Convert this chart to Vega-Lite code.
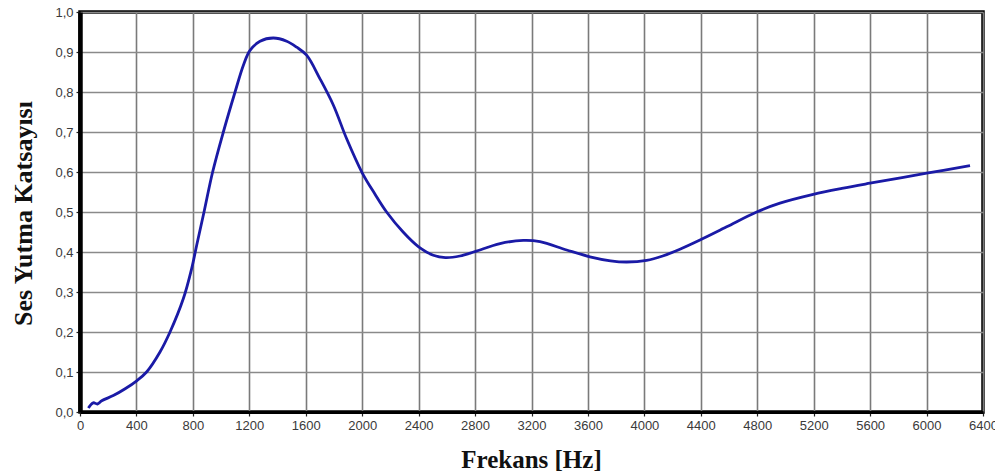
{
  "$schema": "https://vega.github.io/schema/vega-lite/v6.json",
  "width": 903,
  "height": 400,
  "autosize": {"type": "none"},
  "padding": {"left": 80, "top": 12, "right": 12, "bottom": 63},
  "background": "white",
  "data": {"values": [
    {"f": 59, "a": 0.010},
    {"f": 94, "a": 0.023},
    {"f": 123, "a": 0.020},
    {"f": 154, "a": 0.028},
    {"f": 236, "a": 0.041},
    {"f": 320, "a": 0.058},
    {"f": 402, "a": 0.078},
    {"f": 472, "a": 0.100},
    {"f": 567, "a": 0.150},
    {"f": 638, "a": 0.200},
    {"f": 732, "a": 0.283},
    {"f": 791, "a": 0.358},
    {"f": 827, "a": 0.417},
    {"f": 879, "a": 0.500},
    {"f": 940, "a": 0.600},
    {"f": 1016, "a": 0.700},
    {"f": 1099, "a": 0.800},
    {"f": 1158, "a": 0.867},
    {"f": 1205, "a": 0.904},
    {"f": 1276, "a": 0.927},
    {"f": 1370, "a": 0.935},
    {"f": 1465, "a": 0.927},
    {"f": 1536, "a": 0.912},
    {"f": 1606, "a": 0.892},
    {"f": 1701, "a": 0.833},
    {"f": 1796, "a": 0.767},
    {"f": 1890, "a": 0.683},
    {"f": 2000, "a": 0.598},
    {"f": 2090, "a": 0.545},
    {"f": 2173, "a": 0.500},
    {"f": 2290, "a": 0.450},
    {"f": 2400, "a": 0.413},
    {"f": 2504, "a": 0.392},
    {"f": 2590, "a": 0.386},
    {"f": 2693, "a": 0.390},
    {"f": 2799, "a": 0.401},
    {"f": 2977, "a": 0.421},
    {"f": 3142, "a": 0.429},
    {"f": 3260, "a": 0.426},
    {"f": 3449, "a": 0.405},
    {"f": 3614, "a": 0.388},
    {"f": 3760, "a": 0.378},
    {"f": 3874, "a": 0.375},
    {"f": 4016, "a": 0.379},
    {"f": 4130, "a": 0.390},
    {"f": 4252, "a": 0.407},
    {"f": 4394, "a": 0.430},
    {"f": 4583, "a": 0.463},
    {"f": 4796, "a": 0.500},
    {"f": 4961, "a": 0.522},
    {"f": 5197, "a": 0.544},
    {"f": 5400, "a": 0.559},
    {"f": 5599, "a": 0.572},
    {"f": 6001, "a": 0.597},
    {"f": 6308, "a": 0.616}
  ]},
  "mark": {"type": "line", "interpolate": "catmull-rom", "color": "#1a1aa6", "strokeWidth": 2.8},
  "encoding": {
    "x": {
      "field": "f", "type": "quantitative",
      "scale": {"domain": [0, 6400], "nice": false, "zero": true},
      "axis": {
        "values": [0,400,800,1200,1600,2000,2400,2800,3200,3600,4000,4400,4800,5200,5600,6000,6400],
        "format": "d",
        "title": "Frekans [Hz]",
        "titleFont": "Liberation Serif", "titleFontSize": 25, "titleFontWeight": "bold", "titleColor": "#111",
        "titleY": 55, "titleBaseline": "alphabetic", "titleX": 451,
        "labelFont": "Liberation Sans", "labelFontSize": 13, "labelColor": "#3a3a3a", "labelPadding": 3,
        "labelFlush": false, "labelOverlap": false,
        "tickSize": 4, "tickColor": "#222", "tickWidth": 1.2,
        "domainColor": "#000", "domainWidth": 3,
        "grid": true, "gridColor": "#7a7a7a", "gridWidth": 1.6
      }
    },
    "y": {
      "field": "a", "type": "quantitative",
      "scale": {"domain": [0, 1], "nice": false},
      "axis": {
        "values": [0,0.1,0.2,0.3,0.4,0.5,0.6,0.7,0.8,0.9,1.0],
        "labelExpr": "replace(format(datum.value, '.1f'), '.', ',')",
        "title": "Ses Yutma Katsayısı",
        "titleFont": "Liberation Serif", "titleFontSize": 26, "titleFontWeight": "bold", "titleColor": "#111",
        "titleAngle": -90, "titleX": -57, "titleY": 201, "titleAlign": "center", "titleBaseline": "middle",
        "labelFont": "Liberation Sans", "labelFontSize": 13, "labelColor": "#3a3a3a", "labelPadding": 3,
        "labelFlush": false, "labelOverlap": false,
        "tickSize": 4, "tickColor": "#222", "tickWidth": 1.2,
        "domainColor": "#000", "domainWidth": 4.5,
        "grid": true, "gridColor": "#8a8a8a", "gridWidth": 1.6
      }
    }
  },
  "config": {
    "view": {"stroke": "#000", "strokeWidth": 3.5}
  }
}
